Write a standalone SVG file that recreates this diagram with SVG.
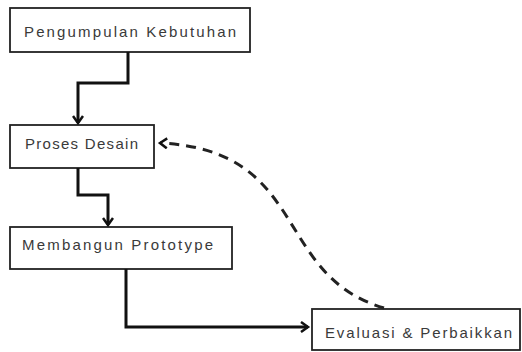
<svg xmlns="http://www.w3.org/2000/svg" width="522" height="352" viewBox="0 0 522 352">
<style>
.box{fill:#fff;stroke:#222;stroke-width:1.8}
.lbl{font-family:"Liberation Sans",Arial,sans-serif;font-size:15px;fill:#3a3a3a}
.con{fill:none;stroke:#111;stroke-width:3}
.dash{fill:none;stroke:#222;stroke-width:3;stroke-dasharray:10 7}
</style>
<defs>
<marker id="arr" markerWidth="12" markerHeight="12" refX="9" refY="6" orient="auto" markerUnits="userSpaceOnUse">
<path d="M2,1 L9,6 L2,11" fill="none" stroke="#111" stroke-width="2.5"/>
</marker>
</defs>
<rect width="522" height="352" fill="#fff"/>
<g id="node1"><rect class="box" x="10" y="8" width="240" height="44"/><text class="lbl" x="24" y="37" textLength="212" lengthAdjust="spacing">Pengumpulan Kebutuhan</text></g>
<g id="node2"><rect class="box" x="10" y="125" width="144" height="43"/><text class="lbl" x="25" y="149" textLength="113" lengthAdjust="spacing">Proses Desain</text></g>
<g id="node3"><rect class="box" x="10" y="227" width="222" height="42"/><text class="lbl" x="22" y="250" textLength="191" lengthAdjust="spacing">Membangun Prototype</text></g>
<g id="node4"><rect class="box" x="312" y="309" width="208" height="41"/><text class="lbl" x="325" y="338" textLength="187" lengthAdjust="spacing">Evaluasi &amp; Perbaikkan</text></g>
<g id="connectors">
<path class="con" d="M128,52 V83 H78 V123" marker-end="url(#arr)"/>
<path class="con" d="M78,168 V195 H108 V225" marker-end="url(#arr)"/>
<path class="con" d="M126,269 V327 H308" marker-end="url(#arr)"/>
<path class="dash" d="M384,308 C272,275 310,150 160,143" marker-end="url(#arr)"/>
</g>
</svg>
